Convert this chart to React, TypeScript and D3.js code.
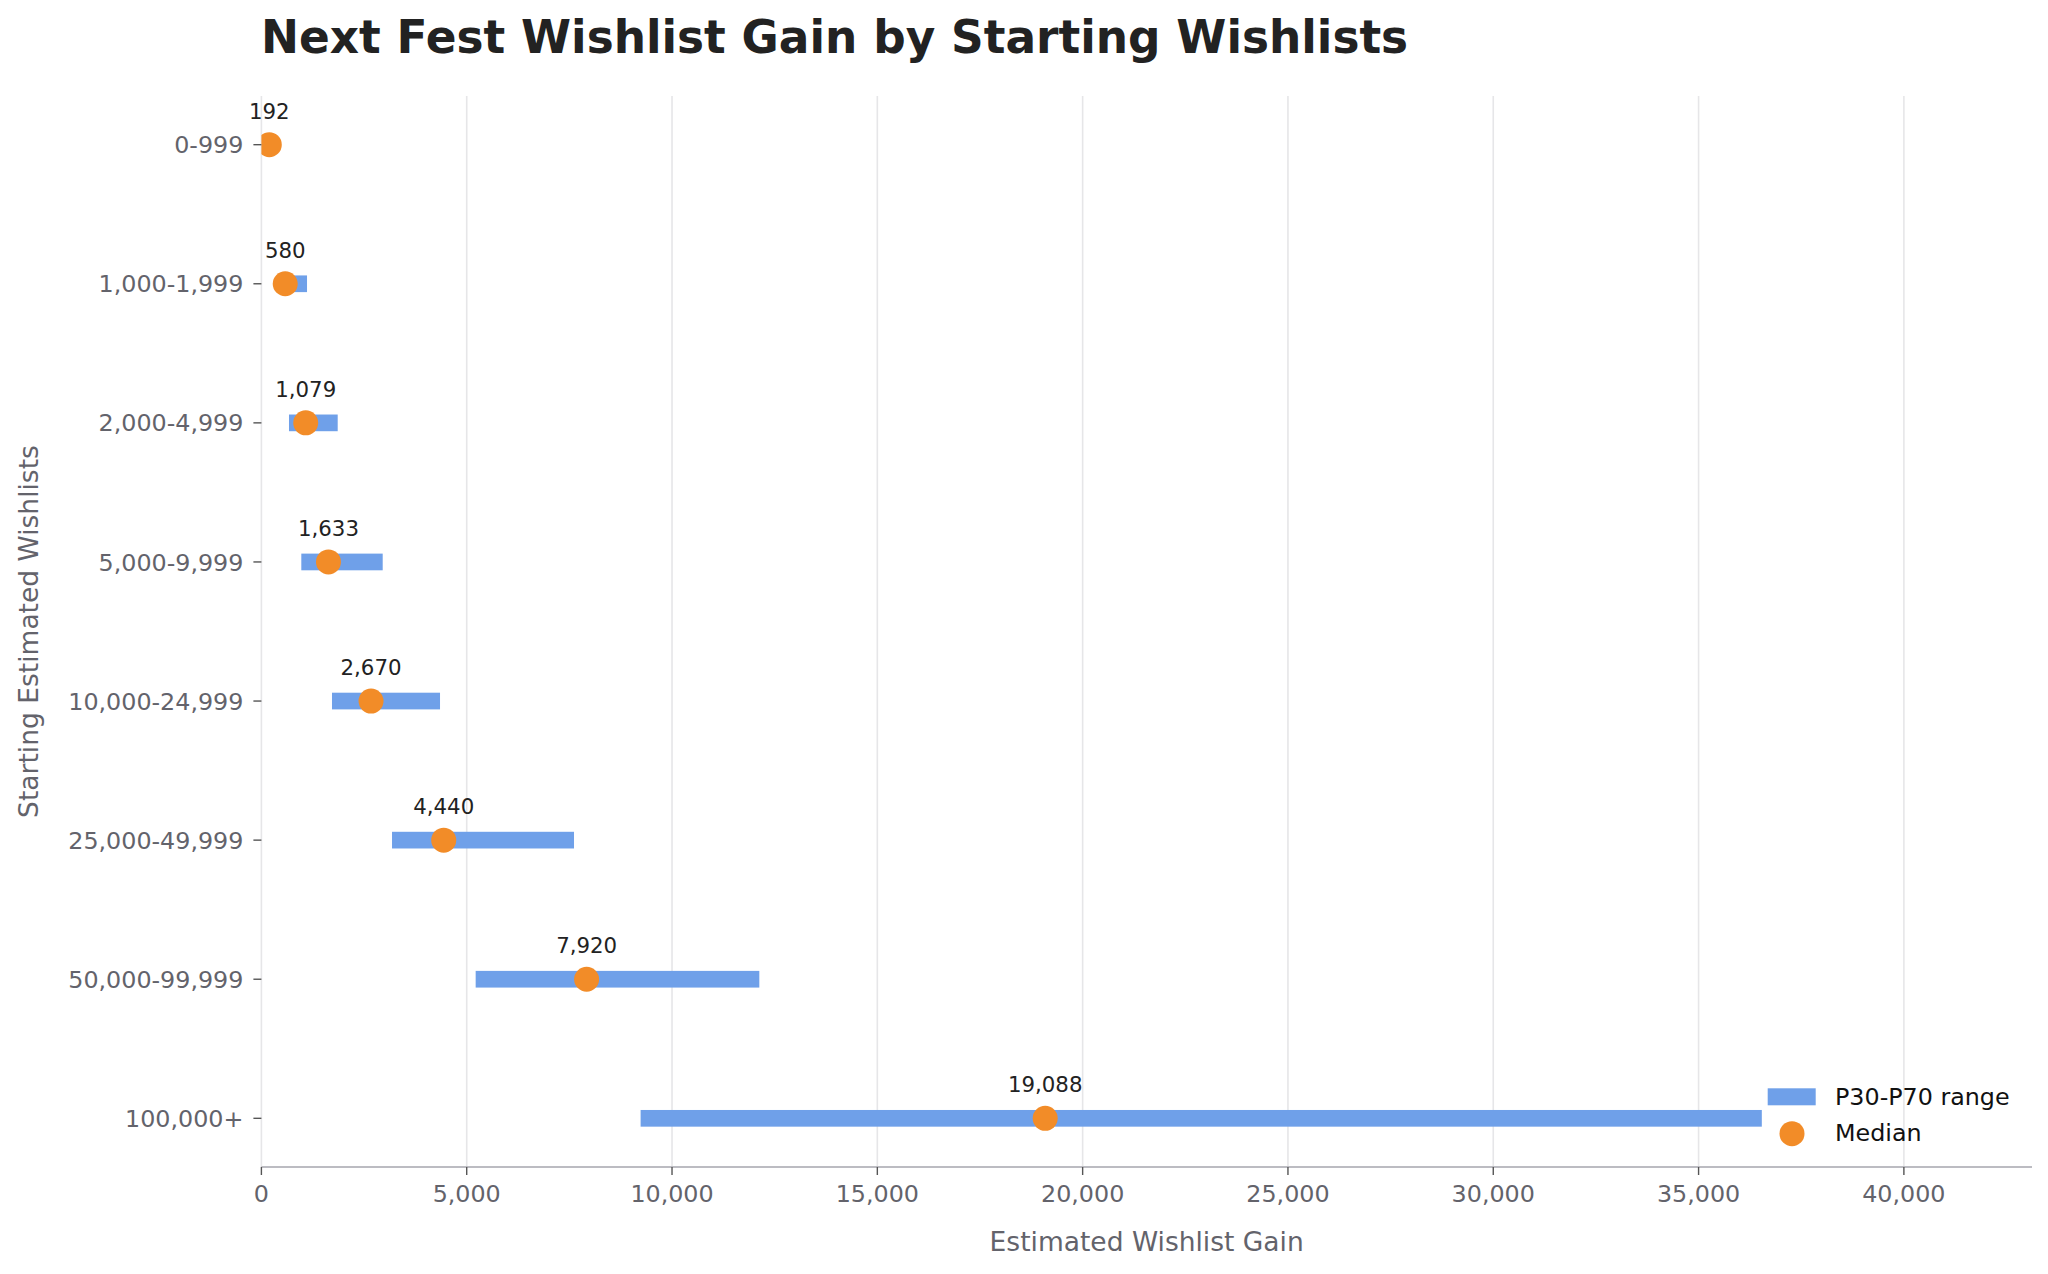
import React from "react";
import * as d3 from "d3";

const categories = [
  "0-999",
  "1,000-1,999",
  "2,000-4,999",
  "5,000-9,999",
  "10,000-24,999",
  "25,000-49,999",
  "50,000-99,999",
  "100,000+",
];
const medianValues = [192, 580, 1079, 1633, 2670, 4440, 7920, 19088];
const p30Values = [70, 380, 672, 972, 1719, 3181, 5218, 9235];
const p70Values = [360, 1111, 1858, 2954, 4350, 7613, 12126, 36540];
const xTicks = [0, 5000, 10000, 15000, 20000, 25000, 30000, 35000, 40000];

const W = 2048;
const H = 1274;
const FONT = "DejaVu Sans, sans-serif";
const BLUE = "#6fa0e9";
const ORANGE = "#f28c28";
const TICK_FS = 23.8;

export default function App() {
  const left = 261.4;
  const right = 2032;
  const top = 96;
  const bottom = 1167;

  const x = d3.scaleLinear().domain([0, 43120]).range([left, right]);
  const y = d3.scaleLinear().domain([-0.35, 7.35]).range([top, bottom]);
  const barH = y(0.12) - y(0);
  const fmt = d3.format(",");

  return (
    <div style={{ position: "absolute", left: 0, top: 0 }}>
      <svg width={W} height={H} viewBox={`0 0 ${W} ${H}`} style={{ display: "block", background: "#fff" }}>
        <defs>
          <clipPath id="plotClip">
            <rect x={left} y={top} width={right - left} height={bottom - top} />
          </clipPath>
        </defs>
        <rect x={0} y={0} width={W} height={H} fill="#fff" />

        {/* gridlines */}
        {xTicks.map((t) => (
          <line key={"g" + t} x1={x(t)} x2={x(t)} y1={top} y2={bottom} stroke="#e6e6e8" strokeWidth={1.6} />
        ))}

        {/* bars and points */}
        <g clipPath="url(#plotClip)">
          {categories.map((c, i) => (
            <rect
              key={"b" + c}
              x={x(p30Values[i])}
              y={y(i) - barH / 2}
              width={x(p70Values[i]) - x(p30Values[i])}
              height={barH}
              fill={BLUE}
            />
          ))}
          {categories.map((c, i) => (
            <circle key={"m" + c} cx={x(medianValues[i])} cy={y(i)} r={12.5} fill={ORANGE} />
          ))}
        </g>

        {/* annotations */}
        {categories.map((c, i) => (
          <text
            key={"a" + c}
            x={x(medianValues[i])}
            y={y(i) - 26}
            textAnchor="middle"
            fontFamily={FONT}
            fontSize={21.3}
            fill="#222"
          >
            {fmt(medianValues[i])}
          </text>
        ))}

        {/* bottom spine */}
        <line x1={left} x2={right} y1={bottom} y2={bottom} stroke="#bcbcc2" strokeWidth={1.8} />

        {/* x ticks */}
        {xTicks.map((t) => (
          <g key={"xt" + t}>
            <line x1={x(t)} x2={x(t)} y1={bottom} y2={bottom + 8} stroke="#555" strokeWidth={1.4} />
            <text x={x(t)} y={1202} textAnchor="middle" fontFamily={FONT} fontSize={TICK_FS} fill="#63636b">
              {fmt(t)}
            </text>
          </g>
        ))}

        {/* y ticks */}
        {categories.map((c, i) => (
          <g key={"yt" + c}>
            <line x1={left - 8} x2={left} y1={y(i)} y2={y(i)} stroke="#555" strokeWidth={1.4} />
            <text
              x={left - 18}
              y={y(i)}
              dy="0.36em"
              textAnchor="end"
              fontFamily={FONT}
              fontSize={TICK_FS}
              fill="#63636b"
            >
              {c}
            </text>
          </g>
        ))}

        {/* axis labels */}
        <text x={(left + right) / 2} y={1251} textAnchor="middle" fontFamily={FONT} fontSize={26.5} fill="#63636b">
          Estimated Wishlist Gain
        </text>
        <text
          transform={`translate(38, ${(top + bottom) / 2}) rotate(-90)`}
          textAnchor="middle"
          fontFamily={FONT}
          fontSize={26.5}
          fill="#63636b"
        >
          Starting Estimated Wishlists
        </text>

        {/* title */}
        <text x={261} y={53} fontFamily={FONT} fontSize={45.4} fontWeight="bold" fill="#222">
          Next Fest Wishlist Gain by Starting Wishlists
        </text>

        {/* legend */}
        <rect x={1767.7} y={1088.3} width={48} height={17} fill={BLUE} />
        <text x={1835} y={1105} fontFamily={FONT} fontSize={TICK_FS} fill="#111">
          P30-P70 range
        </text>
        <circle cx={1792} cy={1133.7} r={12.5} fill={ORANGE} />
        <text x={1835} y={1141} fontFamily={FONT} fontSize={TICK_FS} fill="#111">
          Median
        </text>
      </svg>
    </div>
  );
}
